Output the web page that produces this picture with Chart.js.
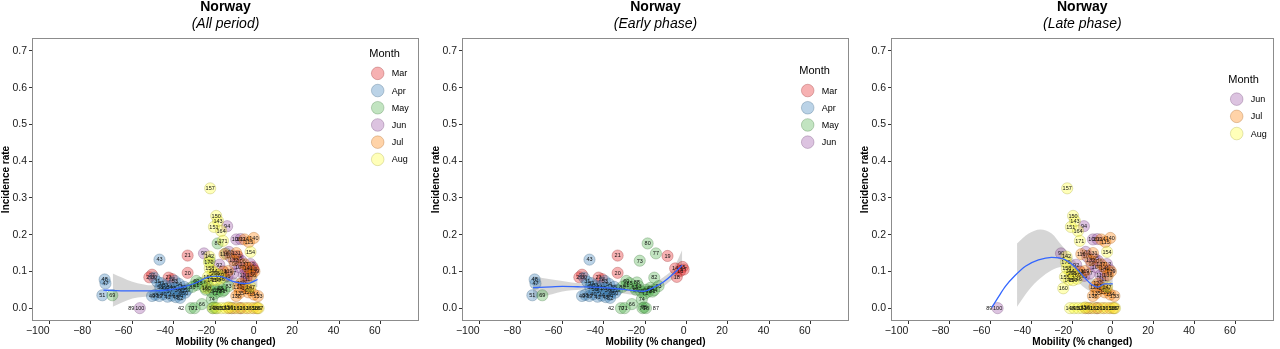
<!DOCTYPE html>
<html>
<head>
<meta charset="utf-8">
<title>Norway - incidence vs mobility</title>
<script src="https://cdn.jsdelivr.net/npm/chart.js@4/dist/chart.umd.min.js"></script>
<style>
  body { margin: 0; background: #fff; }
  #wrap { position: relative; width: 1280px; height: 349px; overflow: hidden; }
  canvas { position: absolute; top: 0; }
</style>
</head>
<body>
<div id="wrap">
  <canvas id="c1" width="430" height="349" style="left:0px"></canvas>
  <canvas id="c2" width="430" height="349" style="left:430px"></canvas>
  <canvas id="c3" width="421" height="349" style="left:859px"></canvas>
</div>

<script>
// points: [mobility, incidence rate, day]
var mar = [
  [-5.5,0.108,14],[-1.9,0.112,15],[-3.1,0.101,16],[-1.4,0.105,17],[-4.7,0.085,18],
  [-9.2,0.142,19],[-33.3,0.096,20],[-33.3,0.143,21],[-42.5,0.083,23],[-50.5,0.091,27],
  [-40.8,0.079,28],[-51.8,0.084,29]
];
var apr = [
  [-73.4,0.078,48],[-73.0,0.067,47],[-74.5,0.035,51],[-46.9,0.132,43],
  [-49.5,0.083,30],[-48.0,0.072,31],[-46.0,0.068,32],[-44.0,0.062,33],[-42.0,0.058,34],
  [-40.0,0.054,35],[-38.0,0.050,36],[-36.0,0.046,37],[-49.0,0.036,38],[-47.0,0.033,39],
  [-45.0,0.038,40],[-43.0,0.031,41],[-41.0,0.034,44],[-39.0,0.030,45],[-37.0,0.036,46],
  [-36.9,0.028,52],[-50.5,0.033,49],[-34.5,0.042,50],[-39.5,0.074,53],[-37.5,0.066,54],
  [-35.0,0.058,55],[-44.5,0.052,56],[-42.0,0.045,57],[-46.5,0.056,58],[-33.5,0.050,59]
];
var may = [
  [-69.7,0.035,69],[-18.8,0.176,80],[-14.8,0.149,77],[-22.6,0.129,73],
  [-29.1,0.074,60],[-29.1,0.063,61],[-25.1,0.057,62],[-23.2,0.060,63],[-24.5,0.050,64],
  [-22.0,0.046,65],[-26.4,0.011,66],[-19.5,0.050,67],[-17.5,0.055,68],[-31.7,0.000,70],
  [-29.9,0.000,71],[-20.0,0.040,72],[-21.6,0.024,74],[-20.5,0.002,75],[-21.3,0.000,76],
  [-19.6,0.000,78],[-18.5,0.045,79],[-16.5,0.045,81],[-15.6,0.083,82],[-13.5,0.060,83],
  [-15.6,0.049,84],[-27.5,0.068,85],[-31.0,0.058,86],[-24.0,0.070,88]
];
var jun = [
  [-56.4,0.000,100],[-25.4,0.149,90],[-14.2,0.223,94],[-9.8,0.187,108],[-7.7,0.188,109],
  [-13.3,0.153,102],[-12.6,0.140,103],[-9.0,0.135,105],[-7.4,0.129,106],[-11.4,0.094,97],
  [-8.2,0.111,104],[-1.7,0.105,113],[-5.0,0.078,111],[-6.1,0.090,110],[-10.5,0.120,96],
  [-4.1,0.103,107],[-12.0,0.000,98],[-8.0,0.000,99],[-20.0,0.090,91],[-18.0,0.118,92],
  [-16.0,0.100,93],[-14.0,0.088,95],[-3.0,0.120,112],[-6.5,0.060,101]
];
var jul = [
  [-5.8,0.187,114],[-3.7,0.180,115],[-15.5,0.147,116],[-16.2,0.099,118],[-13.7,0.101,119],
  [-7.4,0.067,120],[-9.0,0.058,121],[-5.0,0.054,122],[-10.5,0.000,123],[-7.5,0.000,124],
  [-3.3,0.050,125],[-4.0,0.043,126],[-4.5,0.000,127],[-1.5,0.000,128],[0.5,0.000,129],
  [-13.5,0.000,130],[-9.8,0.150,131],[-11.0,0.130,132],[0.7,0.033,133],[-1.3,0.037,134],
  [-8.2,0.041,135],[-2.5,0.090,136],[-6.0,0.120,137],[-9.8,0.033,138],[-1.0,0.100,139],
  [-1.3,0.191,140],[-4.0,0.110,141]
];
var aug = [
  [-22.4,0.326,157],[-19.5,0.251,150],[-18.6,0.237,143],[-20.6,0.221,151],[-17.1,0.210,164],
  [-16.2,0.183,171],[-2.9,0.153,154],[-22.7,0.140,142],[-22.6,0.108,158],[-21.0,0.101,144],
  [-23.5,0.085,155],[-21.6,0.077,145],[-19.5,0.076,159],[-17.5,0.080,146],[-24.3,0.054,160],
  [-2.9,0.058,147],[-21.0,0.000,148],[-19.0,0.000,149],[-17.0,0.000,152],[-15.0,0.000,153],
  [-13.5,0.002,156],[-12.0,0.000,161],[-9.0,0.000,162],[-6.0,0.000,163],[-3.0,0.000,165],
  [0.0,0.000,166],[1.0,0.000,167],[-20.0,0.095,168],[-18.0,0.090,169],[-23.0,0.125,170]
];
// labels whose circle does not show
var bare = [[-60.5,0,89],[-36.5,0,42],[-14.8,0,87]];

var monthPts = { Mar: mar, Apr: apr, May: may, Jun: jun, Jul: jul, Aug: aug };
var monthRGB = {
  Mar: [228,26,28], Apr: [55,126,184], May: [77,175,74],
  Jun: [152,78,163], Jul: [255,127,0], Aug: [255,255,51]
};

// loess fits
var allFitX  = [-74,-69,-60,-50,-40,-30,-24,-20,-16.5,-11,-6,-3,0.5];
var allFitY  = [0.049,0.048,0.047,0.047,0.052,0.067,0.083,0.087,0.085,0.072,0.067,0.069,0.078];
var allBandX = [-69.5,-60,-50,-40,-30,-24,-20,-16.5,-11,-6,-3,0.5];
var allLo    = [0.004,0.026,0.034,0.043,0.058,0.070,0.077,0.074,0.060,0.055,0.055,0.058];
var allHi    = [0.094,0.072,0.062,0.063,0.075,0.092,0.097,0.096,0.085,0.080,0.083,0.098];

var earlyFitX = [-74.2,-65,-60,-51,-40,-30.4,-24,-20.8,-16,-11,-6.2,-2.1];
var earlyFitY = [0.056,0.058,0.059,0.058,0.056,0.051,0.047,0.046,0.056,0.072,0.094,0.117];
var earlyLo   = [0.026,0.038,0.045,0.050,0.048,0.040,0.035,0.033,0.043,0.060,0.080,0.088];
var earlyHi   = [0.087,0.078,0.074,0.067,0.065,0.063,0.060,0.060,0.068,0.085,0.110,0.158];

var lateFitX  = [-59.2,-55.5,-52.5,-48,-42.8,-36.4,-30,-23.5,-18.7,-13.9,-10.6,-7.4,-4.2,-0.1];
var lateFitY  = [0.002,0.035,0.060,0.088,0.114,0.131,0.138,0.132,0.113,0.083,0.065,0.057,0.066,0.066];
var lateBandX = [-46.9,-41.2,-35.5,-30,-25.1,-20.3,-15,-10,-5,-0.1];
var lateLo    = [0.004,0.049,0.081,0.103,0.112,0.094,0.060,0.045,0.050,0.040];
var lateHi    = [0.176,0.203,0.214,0.203,0.171,0.140,0.105,0.080,0.085,0.090];

var xTicks = [-100,-80,-60,-40,-20,0,20,40,60];
var yTicks = [0,0.1,0.2,0.3,0.4,0.5,0.6,0.7];

var FONT = '"Liberation Sans", Arial, Helvetica, sans-serif';

function rgba(c, a) { return 'rgba(' + c[0] + ',' + c[1] + ',' + c[2] + ',' + a + ')'; }
function fill(m) { return rgba(monthRGB[m], 0.34); }
function edge(m) { var c = monthRGB[m]; return rgba([c[0]*0.6|0, c[1]*0.6|0, c[2]*0.6|0], 0.35); }
function xy(xs, ys) { return xs.map(function(x, i) { return { x: x, y: ys[i] }; }); }

// day numbers on the circles
var dayLabels = {
  id: 'dayLabels',
  afterDatasetDraw: function(chart, args) {
    var ds = chart.data.datasets[args.index];
    if (!ds.dayLabels) return;
    var ctx = chart.ctx;
    ctx.save();
    ctx.font = '5.5px ' + FONT;
    ctx.fillStyle = '#111';
    ctx.textAlign = 'center';
    ctx.textBaseline = 'middle';
    args.meta.data.forEach(function(el, i) {
      ctx.fillText(ds.data[i].d, el.x, el.y + 0.3);
    });
    ctx.restore();
  }
};

// panel frame, headings and month key
var decor = {
  id: 'decor',
  afterDraw: function(chart, args, opts) {
    var ctx = chart.ctx, a = chart.chartArea;
    ctx.save();
    ctx.strokeStyle = '#8c8c8c';
    ctx.lineWidth = 1;
    ctx.strokeRect(Math.round(a.left) + 0.5, Math.round(a.top) + 0.5,
                   Math.round(a.right - a.left) - 1, Math.round(a.bottom - a.top) - 1);

    var cx = (a.left + a.right) / 2;
    ctx.fillStyle = '#000';
    ctx.textAlign = 'center';
    ctx.textBaseline = 'alphabetic';
    ctx.font = 'bold 14px ' + FONT;
    ctx.fillText(opts.title, cx, 11);
    ctx.font = 'italic 14px ' + FONT;
    ctx.fillText(opts.subtitle, cx, 28);

    var months = opts.months, n = months.length;
    var kx = a.left + 345.7;
    var ty = 106.7 - (19.3 + (n - 1) * 17.2) / 2;
    ctx.textAlign = 'left';
    ctx.textBaseline = 'middle';
    ctx.font = '11px ' + FONT;
    ctx.fillText('Month', kx - 8.4, ty);
    ctx.font = '9px ' + FONT;
    months.forEach(function(m, i) {
      var y = ty + 19.3 + i * 17.2;
      ctx.beginPath();
      ctx.arc(kx, y, 6.3, 0, Math.PI * 2);
      ctx.fillStyle = fill(m);
      ctx.fill();
      ctx.strokeStyle = edge(m);
      ctx.lineWidth = 0.8;
      ctx.stroke();
      ctx.fillStyle = '#000';
      ctx.fillText(m, kx + 14, y + 0.5);
    });
    ctx.restore();
  }
};

function makePanel(id, subtitle, months, keep, fitX, fitY, bandX, lo, hi) {
  var canvas = document.getElementById(id);
  var datasets = [];

  datasets.push({
    type: 'line', data: xy(fitX, fitY), borderColor: '#3366FF', borderWidth: 1.3,
    pointRadius: 0, fill: false, cubicInterpolationMode: 'monotone'
  });

  months.slice().reverse().forEach(function(m) {
    var pts = monthPts[m].filter(function(p) { return keep(p[2]); });
    datasets.push({
      type: 'scatter', month: m, dayLabels: true,
      data: pts.map(function(p) { return { x: p[0], y: p[1], d: p[2] }; }),
      backgroundColor: fill(m), borderColor: edge(m), borderWidth: 0.8,
      pointRadius: 5.6, pointHoverRadius: 5.6
    });
  });

  datasets.push({
    type: 'scatter', dayLabels: true,
    data: bare.filter(function(p) { return keep(p[2]); })
              .map(function(p) { return { x: p[0], y: p[1], d: p[2] }; }),
    pointRadius: 0, backgroundColor: 'rgba(0,0,0,0)', borderColor: 'rgba(0,0,0,0)'
  });

  datasets.push({
    type: 'line', data: xy(bandX, hi), borderWidth: 0, borderColor: 'rgba(0,0,0,0)',
    pointRadius: 0, fill: '+1', backgroundColor: 'rgba(153,153,153,0.4)',
    cubicInterpolationMode: 'monotone'
  });
  datasets.push({
    type: 'line', data: xy(bandX, lo), borderWidth: 0, borderColor: 'rgba(0,0,0,0)',
    pointRadius: 0, fill: false, cubicInterpolationMode: 'monotone'
  });

  return new Chart(canvas, {
    type: 'scatter',
    data: { datasets: datasets },
    plugins: [dayLabels, decor],
    options: {
      responsive: false,
      animation: false,
      events: [],
      devicePixelRatio: 1,
      layout: { padding: { left: 0, right: canvas.width - 419, top: 38, bottom: 0 } },
      plugins: {
        legend: { display: false },
        tooltip: { enabled: false },
        title: { display: false },
        decor: { title: 'Norway', subtitle: subtitle, months: months }
      },
      scales: {
        x: {
          type: 'linear', min: -108.5, max: 78.5,
          afterBuildTicks: function(s) { s.ticks = xTicks.map(function(v) { return { value: v }; }); },
          afterFit: function(s) { s.height = 28; },
          grid: { drawOnChartArea: false, drawTicks: true, tickLength: 3, color: '#333' },
          border: { display: false },
          ticks: {
            color: '#1a1a1a', font: { family: FONT, size: 10.5 }, padding: 1,
            maxRotation: 0, autoSkip: false, align: 'end',
            callback: function(v) { return v < 0 ? '\u2212' + Math.abs(v) : String(v); }
          },
          title: {
            display: true, text: 'Mobility (% changed)', color: '#000',
            font: { family: FONT, size: 10, weight: 'bold' }, padding: { top: 0, bottom: 1 }
          }
        },
        y: {
          type: 'linear', min: -0.035, max: 0.735,
          afterBuildTicks: function(s) { s.ticks = yTicks.map(function(v) { return { value: v }; }); },
          afterFit: function(s) { s.width = 32; },
          grid: { drawOnChartArea: false, drawTicks: true, tickLength: 3, color: '#333' },
          border: { display: false },
          ticks: {
            color: '#1a1a1a', font: { family: FONT, size: 10.5 }, padding: 2,
            callback: function(v) { return v.toFixed(1); }
          },
          title: {
            display: true, text: 'Incidence rate', color: '#000',
            font: { family: FONT, size: 10, weight: 'bold' }, padding: { top: 0, bottom: 0 }
          }
        }
      }
    }
  });
}

makePanel('c1', '(All period)', ['Mar','Apr','May','Jun','Jul','Aug'],
  function(d) { return true; }, allFitX, allFitY, allBandX, allLo, allHi);
makePanel('c2', '(Early phase)', ['Mar','Apr','May','Jun'],
  function(d) { return d <= 88; }, earlyFitX, earlyFitY, earlyFitX, earlyLo, earlyHi);
makePanel('c3', '(Late phase)', ['Jun','Jul','Aug'],
  function(d) { return d >= 89; }, lateFitX, lateFitY, lateBandX, lateLo, lateHi);
</script>
</body>
</html>
